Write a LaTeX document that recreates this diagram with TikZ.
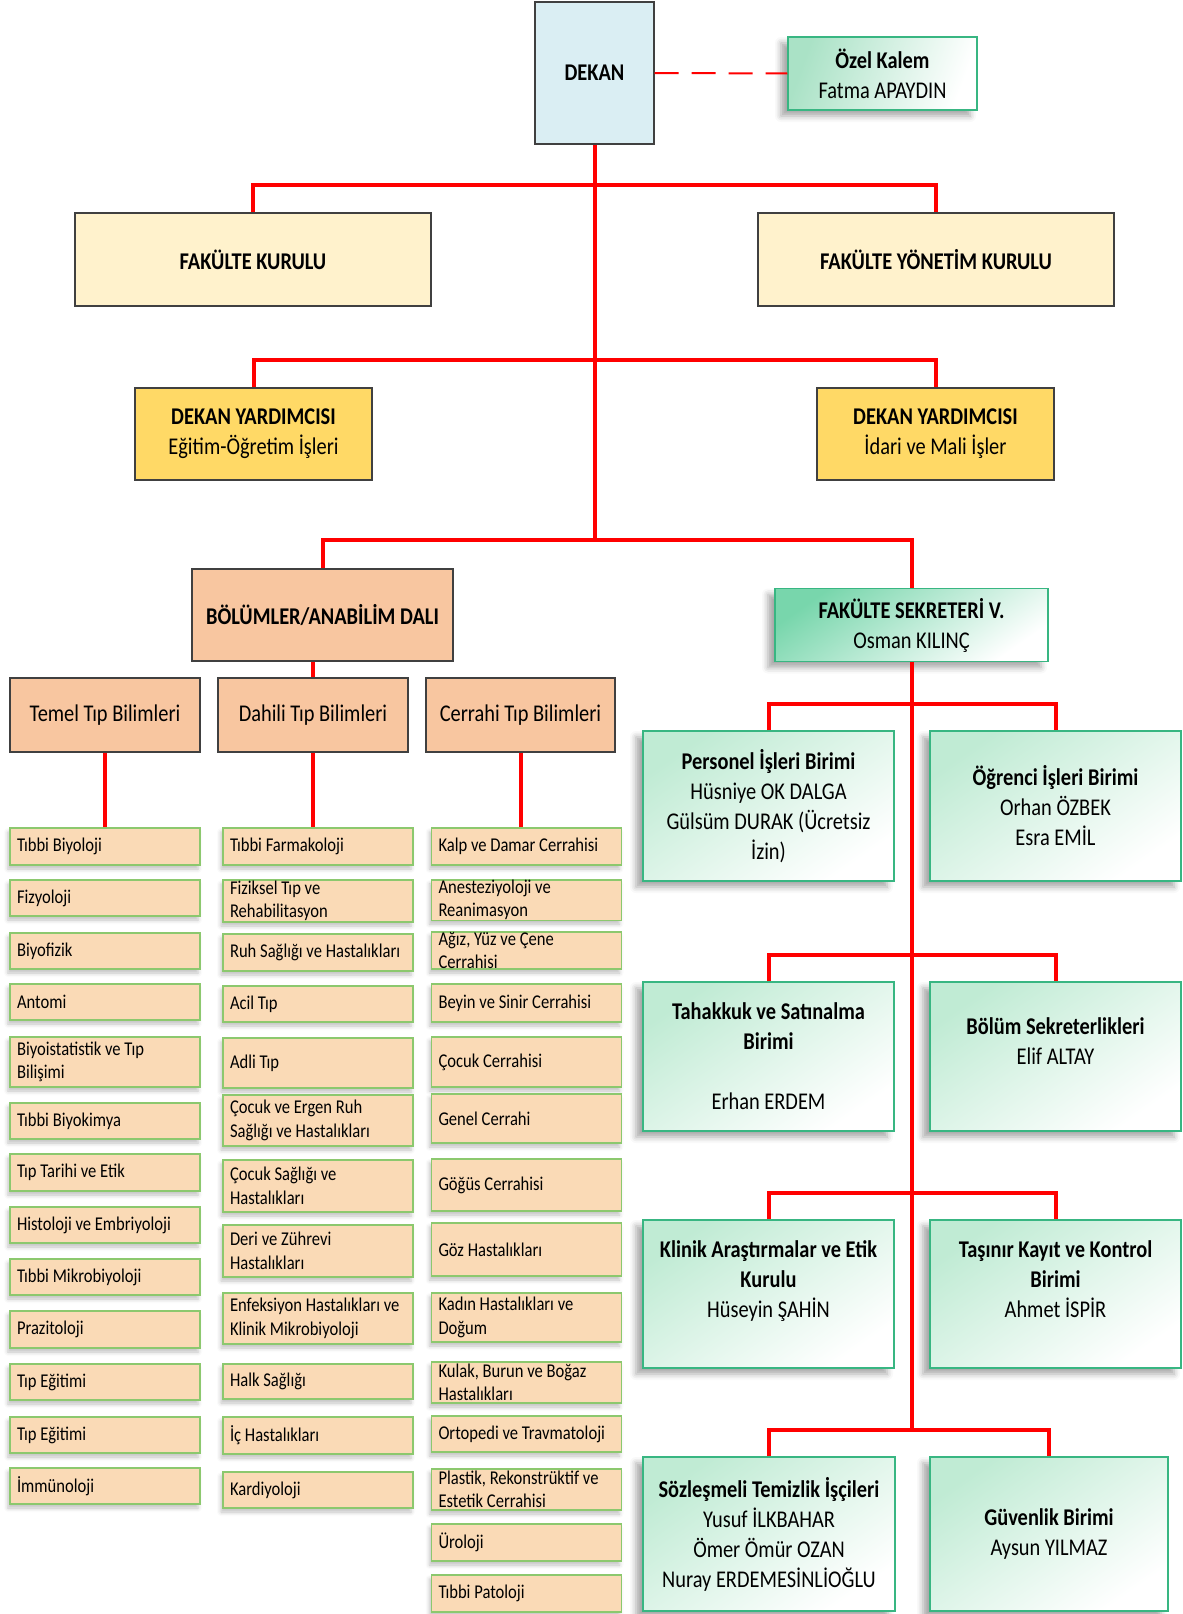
\documentclass[tikz,border=0pt]{standalone}
\usepackage{fontspec}
\setmainfont{Carlito}[FakeStretch=0.85]
\usetikzlibrary{shadows.blur}

\definecolor{linered}{RGB}{255,0,0}
\definecolor{boxgray}{RGB}{64,64,64}
\definecolor{dekanblue}{RGB}{218,238,243}
\definecolor{kurulfill}{RGB}{255,242,204}
\definecolor{yardimfill}{RGB}{255,217,102}
\definecolor{bolumfill}{RGB}{248,198,160}
\definecolor{listfill}{RGB}{250,218,182}
\definecolor{listline}{RGB}{140,200,110}
\definecolor{sekline}{RGB}{56,182,130}
\definecolor{sekgreen}{RGB}{120,214,172}
\definecolor{birimgreen}{RGB}{192,235,212}
\definecolor{kalemgreen}{RGB}{170,226,198}

\newcommand{\bigfont}{\fontsize{24}{30}\selectfont}
\newcommand{\listfont}{\fontsize{19.5}{23.5}\selectfont}

\tikzset{
  redline/.style={draw=linered, line width=4pt},
  kalemline/.style={draw=linered, line width=2pt, dash pattern=on 24pt off 13pt},
  plainbox/.style={draw=boxgray, line width=1.2pt, align=center, inner sep=0pt, font=\bigfont},
  dekanbox/.style={plainbox, fill=dekanblue},
  kurulbox/.style={plainbox, fill=kurulfill},
  yardimbox/.style={plainbox, fill=yardimfill},
  bolumbox/.style={plainbox, fill=bolumfill},
  sekbox/.style={draw=sekline, line width=1.5pt, align=center, inner sep=0pt, font=\bigfont,
    top color=sekgreen, bottom color=white, shading angle=35,
    blur shadow={shadow xshift=-7pt, shadow yshift=-6pt, shadow blur radius=6pt, shadow opacity=35}},
  kalembox/.style={sekbox, top color=kalemgreen, bottom color=white, shading angle=70},
  birimbox/.style={sekbox, top color=birimgreen, bottom color=white, shading angle=35},
  listbox/.style={draw=listline, fill=listfill, line width=1.2pt, align=flush left,
    text width=176pt, inner xsep=7pt, inner ysep=0pt, font=\listfont,
    blur shadow={shadow xshift=-2pt, shadow yshift=-4pt, shadow blur radius=4pt, shadow opacity=25}}
}

\begin{document}
\begin{tikzpicture}[x=1pt, y=-1pt]
\useasboundingbox (0,0) rectangle (1183,1614);

% top of the chart
\node[dekanbox, minimum width=119, minimum height=142] (dekan) at (594.5,73) {\textbf{DEKAN}};
\node[kalembox, minimum width=189, minimum height=73] (ozel) at (882.5,73.5) {\textbf{Özel Kalem}\\Fatma APAYDIN};
\draw[kalemline] (dekan.east) -- (ozel.west);

\node[kurulbox, minimum width=356, minimum height=93] (fk) at (253,259.5) {\textbf{FAKÜLTE KURULU}};
\node[kurulbox, minimum width=356, minimum height=93] (fyk) at (936,259.5) {\textbf{FAKÜLTE YÖNETİM KURULU}};

\node[yardimbox, minimum width=237, minimum height=92] (dyl) at (253.5,434) {\textbf{DEKAN YARDIMCISI}\\Eğitim-Öğretim İşleri};
\node[yardimbox, minimum width=237, minimum height=92] (dyr) at (935.5,434) {\textbf{DEKAN YARDIMCISI}\\İdari ve Mali İşler};

\node[bolumbox, minimum width=261, minimum height=92] (bolum) at (322.5,615) {\textbf{BÖLÜMLER/ANABİLİM DALI}};
\node[sekbox, minimum width=273, minimum height=73] (sek) at (911.5,625) {\textbf{FAKÜLTE SEKRETERİ V.}\\Osman KILINÇ};

\coordinate (bar1) at (0,185);
\coordinate (bar2) at (0,360);
\coordinate (bar3) at (0,540);

\draw[redline] (dekan.south) -- (dekan.south |- bar3);
\draw[redline] (fk.north) -- (fk.north |- bar1) -- (fyk.north |- bar1) -- (fyk.north);
\draw[redline] (dyl.north) -- (dyl.north |- bar2) -- (dyr.north |- bar2) -- (dyr.north);
\draw[redline] (bolum.north) -- (bolum.north |- bar3) -- (sek.north |- bar3) -- (sek.north);

%%% bolumler
\node[bolumbox, minimum width=190, minimum height=74] (temel) at (105,715) {Temel Tıp Bilimleri};
\node[bolumbox, minimum width=190, minimum height=74] (dahili) at (313,715) {Dahili Tıp Bilimleri};
\node[bolumbox, minimum width=189, minimum height=74] (cerrahi) at (520.5,715) {Cerrahi Tıp Bilimleri};
\draw[redline] (bolum.south -| dahili.north) -- (dahili.north);

\foreach \ya/\yb/\txt [count=\i] in {828/865/{Tıbbi Biyoloji}, 880/916/{Fizyoloji},
  933/969/{Biyofizik}, 984/1020/{Antomi}, 1037/1087/{Biyoistatistik ve Tıp\\Bilişimi},
  1103/1139/{Tıbbi Biyokimya}, 1154/1191/{Tıp Tarihi ve Etik},
  1207/1243/{Histoloji ve Embriyoloji}, 1259/1295/{Tıbbi Mikrobiyoloji},
  1311/1348/{Prazitoloji}, 1364/1400/{Tıp Eğitimi}, 1417/1453/{Tıp Eğitimi},
  1468/1504/{İmmünoloji}}
\node[listbox, minimum height=\yb-\ya] (t\i) at (105,{(\ya+\yb)/2}) {\txt};

\foreach \ya/\yb/\txt [count=\i] in {828/865/{Tıbbi Farmakoloji},
  880/922/{Fiziksel Tıp ve\\Rehabilitasyon}, 934/971/{Ruh Sağlığı ve Hastalıkları},
  986/1022/{Acil Tıp}, 1038/1088/{Adli Tıp},
  1095/1146/{Çocuk ve Ergen Ruh\\Sağlığı ve Hastalıkları},
  1160/1212/{Çocuk Sağlığı ve\\Hastalıkları}, 1225/1277/{Deri ve Zührevi\\Hastalıkları},
  1293/1344/{Enfeksiyon Hastalıkları ve\\Klinik Mikrobiyoloji},
  1364/1399/{Halk Sağlığı}, 1417/1454/{İç Hastalıkları}, 1472/1508/{Kardiyoloji}}
\node[listbox, minimum height=\yb-\ya] (d\i) at (318,{(\ya+\yb)/2}) {\txt};

\foreach \ya/\yb/\txt [count=\i] in {828/865/{Kalp ve Damar Cerrahisi},
  880/920/{Anesteziyoloji ve\\Reanimasyon}, 932/969/{Ağız, Yüz ve Çene\\Cerrahisi},
  984/1022/{Beyin ve Sinir Cerrahisi}, 1037/1087/{Çocuk Cerrahisi},
  1094/1143/{Genel Cerrahi}, 1159/1211/{Göğüs Cerrahisi}, 1223/1276/{Göz Hastalıkları},
  1293/1342/{Kadın Hastalıkları ve\\Doğum}, 1362/1403/{Kulak, Burun ve Boğaz\\Hastalıkları},
  1416/1452/{Ortopedi ve Travmatoloji}, 1469/1510/{Plastik, Rekonstrüktif ve\\Estetik Cerrahisi},
  1524/1561/{Üroloji}, 1575/1612/{Tıbbi Patoloji}}
\node[listbox, minimum height=\yb-\ya] (c\i) at (526.5,{(\ya+\yb)/2}) {\txt};

\draw[redline] (temel.south) -- (temel.south |- t1.north);
\draw[redline] (dahili.south) -- (dahili.south |- d1.north);
\draw[redline] (cerrahi.south) -- (cerrahi.south |- c1.north);

%%% fakulte sekreteri
\node[birimbox, minimum width=251, minimum height=150] (pers) at (768.5,806) {\textbf{Personel İşleri Birimi}\\Hüsniye OK DALGA\\Gülsüm DURAK (Ücretsiz\\İzin)};
\node[birimbox, minimum width=251, minimum height=150] (ogr) at (1055.5,806) {\textbf{Öğrenci İşleri Birimi}\\Orhan ÖZBEK\\Esra EMİL};
\node[birimbox, minimum width=251, minimum height=149] (tah) at (768.5,1056.5) {\textbf{Tahakkuk ve Satınalma}\\\textbf{Birimi}\\~\\Erhan ERDEM};
\node[birimbox, minimum width=251, minimum height=149] (bsek) at (1055.5,1056.5) {\textbf{Bölüm Sekreterlikleri}\\Elif ALTAY\\~};
\node[birimbox, minimum width=251, minimum height=148] (kar) at (768.5,1294) {\textbf{Klinik Araştırmalar ve Etik}\\\textbf{Kurulu}\\Hüseyin ŞAHİN\\~};
\node[birimbox, minimum width=251, minimum height=148] (tas) at (1055.5,1294) {\textbf{Taşınır Kayıt ve Kontrol}\\\textbf{Birimi}\\Ahmet İSPİR\\~};
\node[birimbox, minimum width=252, minimum height=154] (soz) at (769,1534) {\textbf{Sözleşmeli Temizlik İşçileri}\\Yusuf İLKBAHAR\\Ömer Ömür OZAN\\Nuray ERDEMESİNLİOĞLU};
\node[birimbox, minimum width=238, minimum height=154] (guv) at (1049,1534) {\textbf{Güvenlik Birimi}\\Aysun YILMAZ};

\coordinate (bar4) at (0,704);
\coordinate (bar5) at (0,955);
\coordinate (bar6) at (0,1193);
\coordinate (bar7) at (0,1430);

\draw[redline] (sek.south) -- (sek.south |- bar7);
\draw[redline] (pers.north) -- (pers.north |- bar4) -- (ogr.north |- bar4) -- (ogr.north);
\draw[redline] (tah.north) -- (tah.north |- bar5) -- (bsek.north |- bar5) -- (bsek.north);
\draw[redline] (kar.north) -- (kar.north |- bar6) -- (tas.north |- bar6) -- (tas.north);
\draw[redline] (soz.north) -- (soz.north |- bar7) -- (guv.north |- bar7) -- (guv.north);

\end{tikzpicture}
\end{document}
